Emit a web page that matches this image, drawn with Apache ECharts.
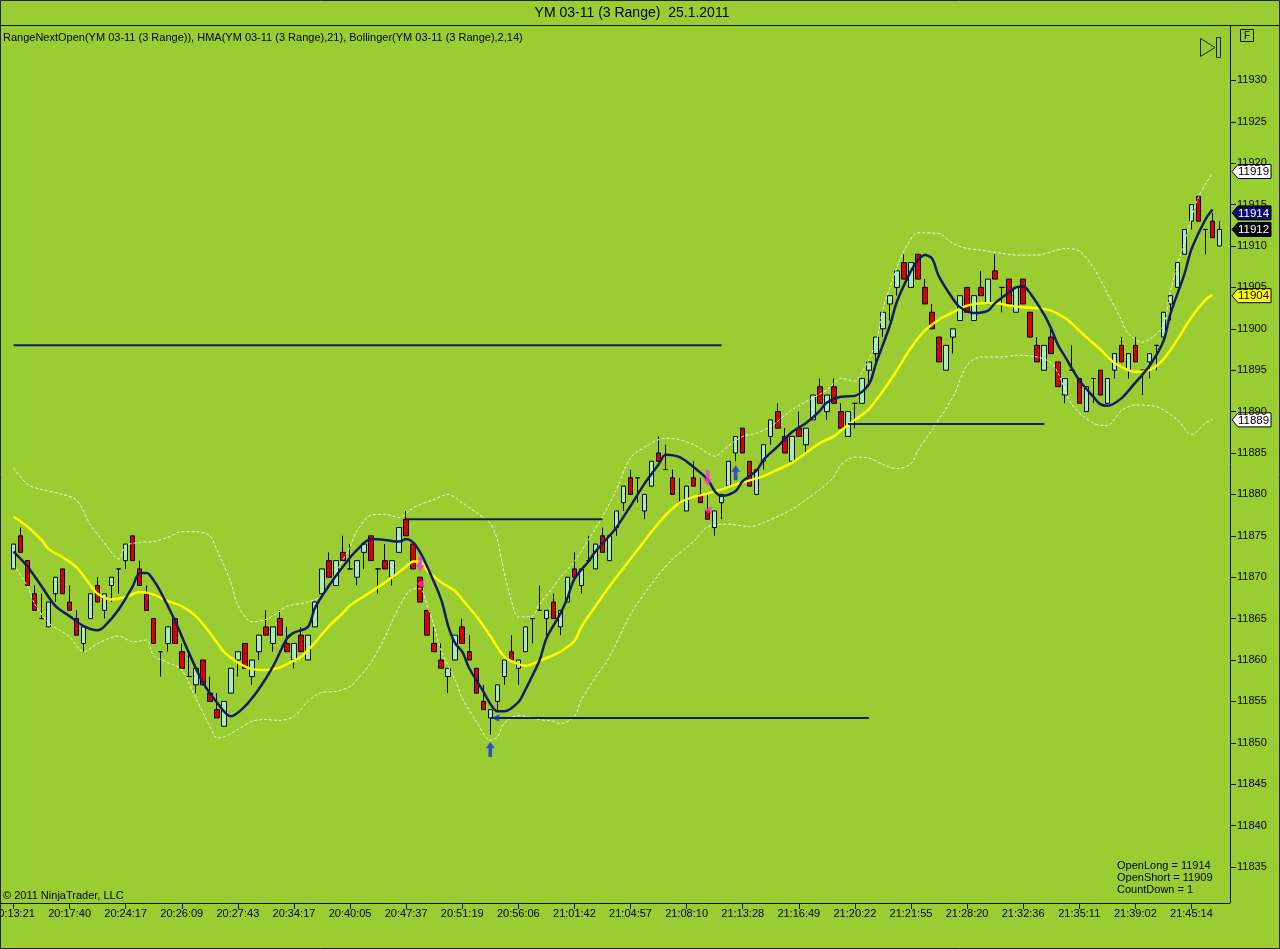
<!DOCTYPE html>
<html lang="en">
<head>
    <meta charset="UTF-8">
    <title>YM 03-11 (3 Range)</title>
    <script src="https://cdn.jsdelivr.net/npm/echarts@6/dist/echarts.min.js"></script>
    <style>
        html, body { margin: 0; padding: 0; background: #9acd32; }
        #main { width: 1280px; height: 949px; }
    </style>
</head>
<body>
<div id="main"></div>
<script type="text/javascript">
    // x axis labels, one every 8 bars
    const timeLabels = ['20:13:21', '20:17:40', '20:24:17', '20:26:09', '20:27:43', '20:34:17', '20:40:05', '20:47:37',
        '20:51:19', '20:56:06', '21:01:42', '21:04:57', '21:08:10', '21:13:28', '21:16:49', '21:20:22',
        '21:21:55', '21:28:20', '21:32:36', '21:35:11', '21:39:02', '21:45:14']

    // 3 range bars
    const opens = [11871, 11875, 11872, 11868, 11865, 11864, 11868, 11871, 11867, 11865, 11862, 11865, 11869, 11866, 11869, 11871, 11872, 11875, 11871, 11868,
        11865, 11861, 11862, 11865, 11861, 11858, 11857, 11860, 11856, 11854, 11852, 11856, 11860, 11862, 11858, 11861, 11864, 11862, 11865, 11862,
        11860, 11863, 11860, 11864, 11868, 11872, 11869, 11873, 11871, 11870, 11873, 11875, 11871, 11872, 11870, 11873, 11877, 11874, 11870, 11866,
        11862, 11860, 11858, 11860, 11864, 11861, 11859, 11855, 11853, 11855, 11858, 11861, 11859, 11861, 11865, 11866, 11865, 11867, 11864, 11867,
        11871, 11869, 11872, 11871, 11875, 11872, 11876, 11879, 11882, 11882, 11878, 11881, 11885, 11883, 11882, 11879, 11878, 11882, 11880, 11878,
        11876, 11879, 11881, 11885, 11888, 11884, 11880, 11884, 11887, 11890, 11887, 11884, 11888, 11886, 11889, 11893, 11890, 11893, 11890, 11887,
        11891, 11891, 11895, 11897, 11900, 11903, 11905, 11908, 11905, 11909, 11905, 11902, 11899, 11895, 11899, 11901, 11905, 11901, 11905, 11903,
        11907, 11905, 11906, 11902, 11906, 11902, 11898, 11895, 11899, 11896, 11892, 11895, 11894, 11890, 11894, 11895, 11891, 11895, 11898, 11895,
        11898, 11895, 11896, 11898, 11899, 11903, 11905, 11909, 11913, 11916, 11912, 11913, 11910]
    const closes = [11874, 11873, 11869, 11866, 11865, 11867, 11870, 11868, 11866, 11863, 11864, 11868, 11867, 11868, 11870, 11871, 11874, 11872, 11869, 11866,
        11862, 11861, 11864, 11862, 11859, 11858, 11859, 11857, 11855, 11853, 11855, 11859, 11861, 11859, 11860, 11863, 11863, 11864, 11863, 11861,
        11862, 11861, 11863, 11867, 11871, 11870, 11872, 11872, 11871, 11872, 11874, 11872, 11871, 11871, 11872, 11876, 11875, 11871, 11867, 11863,
        11861, 11859, 11859, 11863, 11862, 11860, 11856, 11854, 11854, 11857, 11860, 11860, 11860, 11864, 11865, 11866, 11866, 11865, 11866, 11870,
        11870, 11871, 11872, 11874, 11873, 11875, 11878, 11881, 11880, 11882, 11880, 11884, 11884, 11883, 11880, 11879, 11881, 11881, 11879, 11877,
        11878, 11880, 11884, 11887, 11885, 11881, 11883, 11886, 11889, 11888, 11885, 11887, 11887, 11888, 11892, 11891, 11892, 11891, 11888, 11890,
        11891, 11894, 11896, 11899, 11902, 11904, 11907, 11906, 11908, 11906, 11903, 11900, 11896, 11898, 11900, 11904, 11902, 11904, 11904, 11906,
        11906, 11905, 11903, 11905, 11903, 11899, 11896, 11898, 11897, 11893, 11894, 11895, 11891, 11893, 11894, 11892, 11894, 11897, 11896, 11897,
        11896, 11895, 11897, 11898, 11902, 11904, 11908, 11912, 11915, 11913, 11912, 11911, 11912]
    const lows = [11871, 11873, 11869, 11866, 11865, 11864, 11867, 11868, 11866, 11863, 11861, 11865, 11867, 11865, 11867, 11868, 11871, 11872, 11869, 11866,
        11862, 11858, 11861, 11862, 11859, 11858, 11856, 11857, 11855, 11853, 11852, 11856, 11858, 11859, 11857, 11860, 11863, 11861, 11863, 11861,
        11859, 11861, 11860, 11864, 11868, 11870, 11869, 11872, 11871, 11869, 11871, 11872, 11868, 11871, 11869, 11873, 11875, 11871, 11867, 11863,
        11861, 11859, 11856, 11860, 11862, 11860, 11856, 11854, 11851, 11854, 11857, 11860, 11857, 11861, 11862, 11866, 11863, 11865, 11863, 11867,
        11870, 11868, 11872, 11871, 11873, 11872, 11875, 11878, 11880, 11879, 11877, 11881, 11884, 11883, 11880, 11879, 11878, 11881, 11879, 11877,
        11875, 11877, 11881, 11884, 11885, 11881, 11880, 11883, 11886, 11888, 11885, 11884, 11887, 11885, 11889, 11891, 11889, 11891, 11888, 11887,
        11888, 11891, 11893, 11896, 11899, 11901, 11904, 11906, 11905, 11906, 11903, 11900, 11896, 11895, 11897, 11901, 11902, 11901, 11904, 11903,
        11906, 11902, 11903, 11902, 11903, 11899, 11896, 11895, 11897, 11893, 11891, 11895, 11891, 11890, 11891, 11892, 11891, 11894, 11896, 11894,
        11896, 11892, 11894, 11895, 11899, 11901, 11905, 11909, 11912, 11913, 11909, 11911, 11910]
    const highs = [11874, 11876, 11872, 11869, 11868, 11867, 11870, 11871, 11869, 11866, 11864, 11868, 11870, 11868, 11870, 11871, 11874, 11875, 11872, 11869,
        11865, 11861, 11864, 11865, 11862, 11861, 11859, 11860, 11858, 11856, 11855, 11859, 11861, 11862, 11860, 11863, 11866, 11864, 11866, 11864,
        11862, 11864, 11863, 11867, 11871, 11873, 11872, 11875, 11874, 11872, 11874, 11875, 11871, 11874, 11872, 11876, 11878, 11874, 11870, 11866,
        11864, 11862, 11859, 11863, 11865, 11863, 11859, 11857, 11854, 11857, 11860, 11863, 11860, 11864, 11865, 11869, 11866, 11868, 11866, 11870,
        11873, 11871, 11875, 11874, 11876, 11875, 11878, 11881, 11883, 11882, 11880, 11884, 11887, 11886, 11883, 11882, 11881, 11884, 11882, 11880,
        11878, 11880, 11884, 11887, 11888, 11884, 11883, 11886, 11889, 11891, 11888, 11887, 11890, 11888, 11892, 11894, 11892, 11894, 11891, 11890,
        11891, 11894, 11896, 11899, 11902, 11904, 11907, 11909, 11908, 11909, 11906, 11903, 11899, 11898, 11900, 11904, 11905, 11904, 11907, 11906,
        11909, 11905, 11906, 11905, 11906, 11902, 11899, 11898, 11900, 11896, 11894, 11898, 11894, 11893, 11894, 11895, 11894, 11897, 11899, 11897,
        11899, 11895, 11897, 11898, 11902, 11904, 11908, 11912, 11915, 11916, 11912, 11914, 11913]

    // HMA(21): [bar, value]
    const hmaPoints = [[0, 11873.1], [2, 11871.3], [4, 11868.9], [6, 11866.5], [8, 11865.3], [10, 11864.1], [12, 11863.6], [13, 11864.1],
        [15, 11866.1], [17, 11868.9], [18, 11870.5], [19, 11870.5], [20, 11869.6], [21, 11868.2], [23, 11864.8], [25, 11860.9],
        [27, 11857.3], [29, 11854.9], [31, 11853.2], [33, 11854.4], [35, 11856.5], [37, 11859.2], [39, 11862.6], [40, 11863.3],
        [42, 11864.0], [43, 11866.3], [45, 11869.0], [47, 11871.3], [49, 11873.3], [51, 11874.6], [53, 11874.5], [55, 11874.3],
        [56, 11874.6], [57, 11874.2], [58, 11873.0], [59, 11871.3], [61, 11867.3], [62, 11864.1], [63, 11862.0], [64, 11861.0],
        [65, 11859.0], [67, 11856.2], [68, 11854.7], [69, 11853.8], [70, 11853.8], [72, 11854.9], [73, 11856.4], [75, 11859.9],
        [76, 11862.6], [78, 11865.6], [79, 11867.5], [80, 11869.8], [82, 11871.9], [83, 11873.1], [85, 11875.0], [86, 11876.0],
        [88, 11878.6], [90, 11881.3], [92, 11883.6], [93, 11884.8], [95, 11884.5], [97, 11883.3], [99, 11881.8], [100, 11880.4],
        [101, 11879.8], [103, 11880.4], [104, 11881.6], [106, 11882.9], [107, 11884.2], [109, 11885.8], [111, 11887.5], [113, 11888.6],
        [115, 11890.1], [116, 11891.1], [118, 11891.8], [120, 11891.9], [122, 11893.3], [123, 11895.8], [125, 11900.4], [126, 11903.3],
        [128, 11907.0], [129, 11908.3], [130, 11908.9], [131, 11908.5], [132, 11906.3], [134, 11903.6], [135, 11902.6], [137, 11901.9],
        [139, 11902.2], [140, 11903.1], [142, 11904.4], [143, 11905.0], [144, 11905.1], [145, 11904.3], [147, 11901.7], [148, 11900.0],
        [149, 11898.0], [150, 11896.6], [152, 11893.8], [154, 11891.8], [155, 11890.9], [156, 11890.7], [158, 11891.6], [160, 11893.5],
        [162, 11895.5], [164, 11898.5], [165, 11901.8], [167, 11906.6], [168, 11909.6], [170, 11913.2], [171, 11914.4]]

    // Bollinger(2,14) middle, upper, lower: [bar, value]
    const bbMid = [[0, 11877.3], [2, 11876.1], [4, 11874.5], [5, 11873.4], [7, 11872.4], [9, 11871.2], [11, 11869.0], [12, 11868.0],
        [14, 11867.3], [16, 11867.6], [18, 11868.2], [20, 11867.9], [22, 11867.1], [24, 11866.5], [26, 11865.3], [28, 11863.3],
        [30, 11861.0], [32, 11859.7], [34, 11858.9], [36, 11858.8], [38, 11859.1], [39, 11859.5], [41, 11860.4], [43, 11862.1],
        [45, 11864.1], [47, 11865.7], [48, 11866.6], [50, 11867.7], [52, 11868.8], [54, 11870.0], [56, 11871.3], [57, 11871.9],
        [58, 11871.9], [59, 11870.8], [61, 11869.4], [63, 11868.3], [64, 11867.3], [66, 11865.3], [68, 11862.9], [70, 11860.4],
        [72, 11859.5], [73, 11859.3], [75, 11859.9], [77, 11860.6], [78, 11861.0], [80, 11862.3], [81, 11864.0], [83, 11866.5],
        [85, 11868.9], [87, 11871.1], [89, 11873.3], [91, 11875.5], [93, 11877.5], [95, 11879.0], [97, 11879.7], [99, 11880.1],
        [101, 11880.6], [103, 11881.2], [105, 11881.7], [107, 11882.2], [109, 11883.0], [111, 11883.8], [113, 11885.0], [115, 11886.2],
        [117, 11887.0], [118, 11887.7], [120, 11889.0], [122, 11890.3], [124, 11892.5], [126, 11895.0], [128, 11897.7], [130, 11899.8],
        [132, 11901.1], [134, 11902.0], [136, 11902.8], [138, 11903.1], [140, 11903.1], [142, 11902.8], [144, 11902.6], [146, 11902.5],
        [148, 11902.2], [150, 11901.3], [151, 11900.6], [153, 11899.0], [155, 11897.5], [157, 11895.9], [159, 11895.0], [160, 11894.8],
        [162, 11895.0], [164, 11896.3], [166, 11898.7], [168, 11901.4], [170, 11903.5], [171, 11904.1]]
    const bbUpper = [[0, 11883.2], [2, 11881.2], [4, 11880.6], [7, 11880.0], [9, 11879.3], [11, 11876.3], [13, 11874.1], [15, 11872.2],
        [16, 11873.8], [18, 11874.2], [20, 11874.3], [22, 11874.8], [24, 11875.5], [26, 11875.5], [28, 11875.0], [29, 11873.3],
        [31, 11869.4], [32, 11866.6], [34, 11864.6], [36, 11864.9], [38, 11865.9], [39, 11866.5], [42, 11867.0], [44, 11867.8],
        [46, 11870.6], [48, 11873.7], [49, 11875.6], [51, 11877.5], [53, 11877.6], [55, 11877.2], [57, 11878.4], [60, 11879.4],
        [62, 11880.0], [64, 11879.0], [66, 11877.8], [68, 11876.5], [69, 11874.5], [70, 11870.5], [71, 11867.2], [72, 11865.2],
        [74, 11865.3], [75, 11866.7], [77, 11868.8], [78, 11870.0], [80, 11871.9], [82, 11874.5], [84, 11877.3], [86, 11880.6],
        [88, 11884.4], [91, 11886.2], [93, 11886.8], [95, 11886.6], [97, 11886.0], [99, 11885.0], [100, 11884.6], [102, 11885.9],
        [104, 11887.0], [106, 11887.4], [108, 11888.2], [111, 11890.2], [113, 11891.2], [116, 11892.6], [118, 11894.0], [120, 11893.7],
        [121, 11894.7], [123, 11898.3], [124, 11902.4], [126, 11907.4], [127, 11909.4], [129, 11911.6], [132, 11911.5], [134, 11910.3],
        [136, 11909.7], [138, 11909.5], [141, 11909.1], [143, 11908.9], [146, 11908.9], [148, 11909.3], [150, 11909.7], [152, 11909.4],
        [154, 11907.4], [156, 11904.3], [158, 11901.1], [159, 11899.4], [161, 11898.4], [162, 11898.7], [164, 11900.4], [165, 11904.6],
        [167, 11910.5], [169, 11915.9], [171, 11918.8]]
    const bbLower = [[0, 11871.5], [2, 11868.9], [3, 11866.8], [5, 11864.5], [8, 11862.8], [10, 11861.0], [12, 11862.0], [15, 11862.9],
        [17, 11862.2], [19, 11862.4], [20, 11860.5], [22, 11859.7], [24, 11858.8], [26, 11855.4], [28, 11852.0], [29, 11850.6],
        [30, 11850.7], [32, 11851.6], [34, 11852.6], [36, 11852.8], [38, 11852.7], [40, 11853.2], [42, 11855.0], [44, 11856.1],
        [46, 11856.2], [48, 11856.8], [49, 11857.6], [51, 11859.7], [53, 11862.8], [55, 11866.4], [57, 11868.6], [58, 11868.6],
        [59, 11866.6], [60, 11864.1], [61, 11861.1], [63, 11857.6], [64, 11855.4], [66, 11852.6], [68, 11850.3], [69, 11850.7],
        [70, 11852.4], [72, 11853.3], [75, 11852.8], [77, 11852.6], [78, 11852.3], [80, 11853.2], [81, 11855.2], [83, 11857.9],
        [85, 11860.4], [88, 11865.5], [91, 11869.2], [94, 11872.2], [97, 11874.3], [99, 11876.1], [102, 11876.4], [105, 11876.1],
        [107, 11876.6], [111, 11878.2], [115, 11880.6], [117, 11882.1], [118, 11883.6], [120, 11884.5], [122, 11884.4], [124, 11883.6],
        [126, 11883.1], [128, 11883.7], [129, 11885.3], [131, 11887.8], [134, 11891.8], [136, 11895.6], [138, 11896.6], [141, 11896.6],
        [143, 11896.8], [146, 11896.6], [148, 11895.9], [149, 11894.6], [151, 11890.8], [154, 11888.6], [156, 11888.3], [158, 11890.1],
        [160, 11890.8], [163, 11890.6], [166, 11889.0], [168, 11887.2], [170, 11888.6], [171, 11889.1]]

    // RangeNextOpen levels
    const levelValues = [11898, 11877, 11853, 11888.5]
    const levelFrom = [0, 56, 68, 119]
    const levelTo = [101, 84, 122, 147]

    // signal arrows: [bar, value]
    const longArrows = [[68, 11849.2], [103, 11882.6]]
    const shortArrows = [[58, 11871.6], [99, 11882.0]]
    const shortMarks = [[58, 11869.2], [99, 11878.1]]
    const entryMarks = [[68, 11853]]

    // price tags on the right axis
    const tagValues = [11919, 11914, 11912, 11904, 11889]
    const tagFill = ['#ffffff', '#0b0b70', '#000000', '#ffff00', '#ffffff']
    const tagText = ['#000000', '#ffffff', '#ffffff', '#000000', '#000000']

    const bg = '#9acd32'
    const navy = '#121c66'
    const font = '"Liberation Sans", Arial, sans-serif'
    const arrowPath = 'path://M5,0 L10,6 L7,6 L7,14 L3,14 L3,6 L0,6 Z'

    const candleData = opens.map((o, i) => [o, closes[i], lows[i], highs[i]])
    const slots = Array.from({ length: opens.length + 1 }, (_, i) => String(i))

    const myChart = echarts.init(document.getElementById('main'), null, { renderer: 'canvas' })

    const levelSeries = levelValues.map((v, k) => ({
        type: 'line',
        data: [[levelFrom[k], v], [levelTo[k], v]],
        symbol: 'none',
        lineStyle: { color: navy, width: 2 },
        z: 4,
        silent: true
    }))

    const option = {
        backgroundColor: bg,
        animation: false,
        textStyle: { fontFamily: font },
        grid: { left: 10, right: 50, top: 39, bottom: 82, containLabel: false, outerBoundsMode: 'none' },
        xAxis: {
            type: 'category',
            data: slots,
            offset: 36,
            boundaryGap: true,
            axisLine: { show: true, lineStyle: { color: '#111', width: 1 } },
            axisTick: { show: true, interval: 7, alignWithLabel: true, length: 6, lineStyle: { color: '#111' } },
            axisLabel: {
                interval: 7,
                margin: 5,
                fontSize: 11,
                color: '#000',
                fontFamily: font,
                hideOverlap: false,
                formatter: (val, idx) => timeLabels[idx / 8] || ''
            },
            splitLine: { show: false }
        },
        yAxis: {
            type: 'value',
            position: 'right',
            min: 11835,
            max: 11935,
            interval: 5,
            axisLine: { show: false },
            axisTick: { show: true, length: 6, lineStyle: { color: '#111' } },
            axisLabel: {
                showMaxLabel: false, margin: 7, fontSize: 11, color: '#000', fontFamily: font,
                formatter: v => String(v)
            },
            splitLine: { show: false }
        },
        series: [
            {
                type: 'candlestick',
                data: candleData,
                barWidth: 5,
                itemStyle: {
                    color: '#a4efb8',
                    color0: '#dc0000',
                    borderColor: '#000',
                    borderColor0: '#000',
                    borderColorDoji: '#000',
                    borderWidth: 1
                },
                z: 2
            },
            {
                type: 'line', data: bbUpper, smooth: 0.3, symbol: 'none', z: 3, silent: true,
                lineStyle: { color: '#f2f8e6', width: 1, type: [3, 2] }
            },
            {
                type: 'line', data: bbLower, smooth: 0.3, symbol: 'none', z: 3, silent: true,
                lineStyle: { color: '#f2f8e6', width: 1, type: [3, 2] }
            },
            {
                type: 'line', data: bbMid, smooth: 0.3, symbol: 'none', z: 3, silent: true,
                lineStyle: { color: '#ffff00', width: 2.5 }
            },
            {
                type: 'line', data: hmaPoints, smooth: 0.3, symbol: 'none', z: 5, silent: true,
                lineStyle: { color: navy, width: 2.5 }
            },
            ...levelSeries,
            {
                type: 'scatter', data: longArrows, z: 6, silent: true,
                symbol: arrowPath, symbolSize: [9, 15],
                itemStyle: { color: '#1030f0' }
            },
            {
                type: 'scatter', data: shortArrows, z: 6, silent: true,
                symbol: arrowPath, symbolRotate: 180, symbolSize: [9, 15],
                itemStyle: { color: '#ff30d0' }
            },
            {
                type: 'scatter', data: shortMarks, z: 6, silent: true,
                symbol: 'triangle', symbolRotate: 90, symbolSize: [8, 8],
                itemStyle: { color: '#ff30d0' }
            },
            {
                type: 'scatter', data: entryMarks, z: 6, silent: true,
                symbol: 'triangle', symbolRotate: 90, symbolSize: [7, 8], symbolOffset: [5, 0],
                itemStyle: { color: '#1030f0' }
            }
        ]
    }

    myChart.setOption(option)

    // frame, captions and the price tags placed through the y scale
    const axisX = 1280 - 50
    const tags = tagValues.map((v, k) => {
        const y = myChart.convertToPixel({ yAxisIndex: 0 }, v)
        return {
            type: 'group',
            x: axisX + 2,
            y: y,
            children: [
                {
                    type: 'polygon',
                    shape: { points: [[0, 0], [6, -7], [39, -7], [39, 7], [6, 7]] },
                    style: { fill: tagFill[k], stroke: '#000', lineWidth: 1 }
                },
                {
                    type: 'text',
                    x: 6, y: 0.5,
                    style: { text: String(v), fill: tagText[k], font: '11.5px ' + font, textVerticalAlign: 'middle', verticalAlign: 'middle' }
                }
            ]
        }
    })

    myChart.setOption({
        graphic: [
            { type: 'rect', shape: { x: 0.5, y: 0.5, width: 1279, height: 948 }, style: { fill: null, stroke: '#222', lineWidth: 1 }, silent: true },
            { type: 'line', shape: { x1: 0, y1: 25.5, x2: 1280, y2: 25.5 }, style: { stroke: '#111', lineWidth: 1 }, silent: true },
            { type: 'line', shape: { x1: axisX + 0.5, y1: 26, x2: axisX + 0.5, y2: 903 }, style: { stroke: '#111', lineWidth: 1 }, silent: true },
            { type: 'line', shape: { x1: 0, y1: 903.5, x2: axisX, y2: 903.5 }, style: { stroke: '#111', lineWidth: 1 }, silent: true },
            {
                type: 'text', x: 632, y: 13,
                style: { text: 'YM 03-11 (3 Range)  25.1.2011', fill: '#000', font: '14px ' + font, textAlign: 'center', textVerticalAlign: 'middle', verticalAlign: 'middle' }
            },
            {
                type: 'text', x: 3, y: 38,
                style: { text: 'RangeNextOpen(YM 03-11 (3 Range)), HMA(YM 03-11 (3 Range),21), Bollinger(YM 03-11 (3 Range),2,14)', fill: '#000', font: '11px ' + font, textVerticalAlign: 'middle', verticalAlign: 'middle' }
            },
            {
                type: 'text', x: 3, y: 896,
                style: { text: '© 2011 NinjaTrader, LLC', fill: '#000', font: '11px ' + font, textVerticalAlign: 'middle', verticalAlign: 'middle' }
            },
            {
                type: 'text', x: 1117, y: 860,
                style: { text: 'OpenLong = 11914\nOpenShort = 11909\nCountDown = 1', fill: '#000', font: '11px ' + font, lineHeight: 12 }
            },
            { type: 'rect', shape: { x: 1240.5, y: 29.5, width: 13, height: 12 }, style: { fill: null, stroke: '#111', lineWidth: 1 }, silent: true },
            {
                type: 'text', x: 1247, y: 36,
                style: { text: 'F', fill: '#000', font: '10px ' + font, textAlign: 'center', textVerticalAlign: 'middle', verticalAlign: 'middle' }
            },
            { type: 'polygon', shape: { points: [[1200.5, 38.5], [1200.5, 56.5], [1215, 47.5]] }, style: { fill: null, stroke: '#222', lineWidth: 1 }, silent: true },
            { type: 'rect', shape: { x: 1216.5, y: 37.5, width: 4, height: 20 }, style: { fill: null, stroke: '#222', lineWidth: 1 }, silent: true },
            ...tags
        ]
    })
</script>
</body>
</html>
